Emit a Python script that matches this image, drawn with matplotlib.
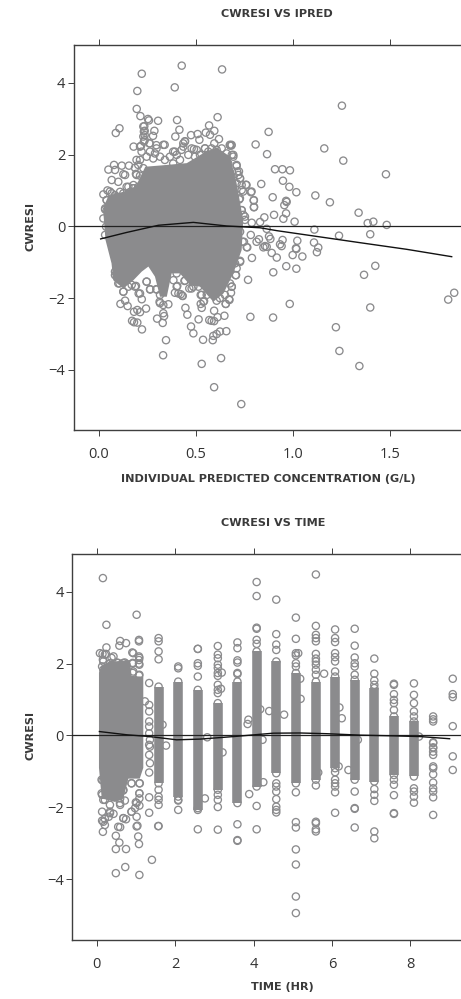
import matplotlib
matplotlib.use("Agg")
import matplotlib.pyplot as plt

plt.rcParams['font.family'] = ['Open Sans', 'DejaVu Sans']

W, H = 461, 999
GREY = '#8b8b8d'
DARK = '#3f3f3f'

# ---------- top panel: CWRESI vs IPRED ----------
ipred_x = [.428,.222,.636,.199,.392,1.254,.196,.215,.254,.259,.306,.404,.613,.107,.088,.235,.237,.287,.416,.569,.596,.876,.395,.280,.237,.510,.476,.552,.574,.620,.519,.445,.237,.261,.340,.180,.218,.297,.393,.436,.491,.548,.596,.684,.677,.809,1.163,.868,1.261,1.481,.909,.947,.986,.838,.950,.983,1.019,.897,.785,.799,.801,1.117,1.192,.966,.969,.957,.966,.904,.854,.952,.832,1.010,.789,1.340,1.387,1.416,1.485,1.112,.866,1.239,1.400,.784,.826,.878,.885,.948,1.024,.935,.943,1.110,1.132,1.017,.857,.814,.749,.763,
 .024,.045,.067,.05,.079,.084,.119,.156,.187,.101,.127,.136,.192,.213,.153,.179,.058,.084,.033,.041,.127,.686,.711,.723,.72,.729,.711,.759,.737,.725,.737,.746,.754,.729,.668,.694,
 .849,.866,.766,.742,1.019,1.125,.892,.918,1.0,1.05,.79,.729,.967,1.019,.90,1.426,1.368,1.833,1.802,.77,.985,1.40,.782,.899,1.223,1.241,1.344,.631,.531,.595,.735,.332,.347,.538,.588,.488,.476,.515,.457,.447,.223,.199,.182,.172,.301,.33,.337,.333,.316,.359,.244,.199,.213,.182,.112,.136,.149,.222,.206,.265,.247,.192,.297,.405,.393,.423,.433,.467,.445,.526,.526,.531,.543,.595,.613,.648,.582,.57,.595,.655,.672,.686,.682,.608,.658,.625,.608,.591,.706,.711,.703,
 .093,.107,.127,.153,.17,.084,.677,.651,.625,.557,.488,.514,.385,.402,.316,.333,.314]
ipred_y = [4.475,4.25,4.37,3.77,3.87,3.36,3.27,3.07,2.99,2.95,2.94,2.96,3.04,2.73,2.60,2.79,2.66,2.66,2.69,2.81,2.66,2.63,2.50,2.52,2.54,2.57,2.54,2.61,2.55,2.43,2.41,2.37,2.40,2.31,2.27,2.22,2.24,2.26,2.08,2.22,2.15,2.17,2.31,2.25,2.25,2.28,2.17,2.01,1.83,1.45,1.59,1.59,1.56,1.18,1.27,1.10,.95,.81,.95,.72,.54,.86,.67,.71,.68,.59,.36,.32,.25,.21,.12,.13,.10,.38,.09,.13,.04,-.09,-.07,-.26,-.22,-.24,-.36,-.28,-.35,-.38,-.40,-.50,-.55,-.45,-.59,-.61,-.55,-.43,-.43,-.58,
 .89,1.00,1.29,1.58,1.71,1.57,1.69,1.69,1.63,1.24,1.45,1.43,1.46,1.41,1.10,1.06,.97,.87,.47,.73,.83,1.99,1.68,1.53,1.43,1.33,1.20,1.16,1.01,.75,.45,.32,.18,-.15,1.75,1.94,
 -.585,-.57,-.585,-.43,-.63,-.72,-.74,-.87,-.80,-.84,-.88,-.96,-1.11,-1.18,-1.28,-1.10,-1.35,-1.85,-2.04,-1.49,-2.16,-2.26,-2.52,-2.54,-2.81,-3.47,-3.89,-3.67,-3.83,-4.48,-4.95,-3.59,-3.17,-3.16,-3.17,-2.98,-2.79,-2.59,-2.46,-2.27,-2.87,-2.68,-2.67,-2.63,-2.57,-2.69,-2.5,-2.42,-2.14,-2.17,-2.29,-2.33,-2.39,-2.38,-2.16,-2.07,-2.22,-2.03,-1.87,-1.75,-1.54,-1.66,-1.75,-1.66,-1.85,-1.89,-1.94,-1.73,-1.51,-1.91,-2.16,-2.27,-2.08,-2.35,-2.53,-2.49,-2.63,-2.61,-2.64,-2.16,-2.03,-1.68,-1.85,-2.07,-2.92,-2.93,-3.0,-3.05,-1.36,-1.17,-1.03,
 -1.40,-1.59,-1.82,-1.68,-1.63,-1.26,-1.59,-1.91,-2.0,-1.91,-1.68,-1.68,-1.50,-1.31,-1.91,-2.19,-2.1]

# rings on the fringe of the dense region
ipred_fringe_x = [.23,.233,.23,.233,.213,.221,.264,.264,.298,.29,.333,.247,.281,.316,.195,.384,.367,.402,.341,.436,.444,.427,.479,.505,.462,.496,.522,.548,.565,.582,.608,.634,.659,.676,.685,.694,.711,.714,.728,.737,.762,.745,.788,.80,.80,.728,.737,.754,.548,.591,.625,.642,.419,.384,.213,.204,.195,.23,.178,.17,.204,
 .11,.144,.179,.041,.067,.093,.127,.162,.196,.033,.024,.038,.033,
 .084,.101,.127,.187,.213,.247,.265,.299,.402,.411,.431,.442,.479,.531,.54,.674,.655,.686,.708,.729]
ipred_fringe_y = [2.78,2.64,2.50,2.36,2.22,2.08,2.31,2.08,2.17,2.03,2.27,1.94,1.89,1.94,1.85,2.08,1.94,1.99,1.85,2.31,2.36,2.13,2.17,2.13,1.99,1.94,1.99,2.17,2.08,2.17,2.13,2.17,2.03,2.27,2.27,1.99,1.71,1.52,1.34,1.15,1.15,.97,.97,.73,.53,.78,.45,.27,1.85,1.94,1.94,1.85,1.85,1.75,1.85,1.71,1.43,1.62,1.06,.83,1.10,
 .96,1.10,1.15,.73,.92,.82,.92,.96,1.01,.50,.22,-.01,-.24,
 -1.36,-1.59,-1.82,-1.68,-1.87,-1.54,-1.76,-1.76,-1.68,-1.87,-1.93,-1.52,-1.73,-1.91,-2.1,-2.05,-2.16,-1.68,-1.36,-.99]

# outline of the region where the rings merge into solid grey
ipred_core_x = [.022,.05,.12,.19,.24,.33,.454,.54,.608,.677,.711,.745,.737,.694,.643,.591,.522,.471,.419,.376,.351,.316,.29,.256,.222,.179,.127,.075,.066,.035]
ipred_core_y = [.5,.85,.95,1.1,1.66,1.7,1.76,2.04,2.2,1.94,1.2,.17,-.66,-1.31,-1.87,-2.1,-1.68,-1.64,-1.31,-1.31,-1.96,-1.96,-1.40,-1.12,-1.26,-1.50,-1.73,-1.50,-1.03,-.38]

ipred_smooth_x = [.01,.144,.308,.488,.66,.832,.918,1.347,1.588,1.82]
ipred_smooth_y = [-.35,-.17,.03,.11,.01,-.04,-.12,-.455,-.64,-.845]

# ---------- bottom panel: CWRESI vs TIME ----------
col_times = [1.58,2.08,2.58,3.09,3.59,4.08,4.58,5.08,5.59,6.08,6.58,7.08,7.58,8.09,8.58,9.08]
col_rings = [
 [2.71,2.62,2.34,2.12,-1.51,-1.70,-1.79,-1.93,-2.52],
 [1.92,1.87,-1.81,-1.79,-2.07],
 [2.41,2.41,2.01,1.94,1.64,-2.02,-2.61],
 [2.49,2.25,2.15,1.97,1.88,1.74,1.66,1.41,1.27,1.18,-1.65,-1.79,-1.99,-2.62],
 [2.59,2.43,2.09,2.03,1.74,1.71,-2.47,-2.91,-2.93],
 [4.27,3.88,3.0,2.97,2.66,2.55,-1.96,-2.61],
 [3.78,2.82,2.53,2.38,-1.33,-1.42,-1.56,-1.77,-1.98,-2.07,-2.14],
 [3.28,2.69,2.29,2.23,2.01,1.92,-1.58,-2.41,-2.56,-3.17,-3.59,-4.48,-4.94],
 [4.48,3.05,2.80,2.71,2.62,2.27,2.14,2.06,1.97,1.83,1.69,-1.39,-2.4,-2.44,-2.61,-2.67],
 [2.95,2.71,2.60,2.29,2.18,2.06,1.78,-1.02,-1.23,-1.33,-1.42,-1.58,-2.15],
 [2.97,2.50,2.17,2.01,1.92,1.69,-1.56,-2.02,-2.04,-2.56],
 [2.14,1.72,1.53,1.41,-1.49,-1.65,-1.82,-2.67,-2.86],
 [1.44,1.41,1.15,.99,.90,.71,-1.23,-1.37,-1.66,-2.16,-2.18],
 [1.45,1.13,.90,.67,.53,-1.47,-1.56,-1.70,-1.87],
 [.53,.45,.39,-.19,-.33,-.21,-.35,-.45,-.54,-.86,-.91,-1.08,-1.31,-1.47,-1.56,-1.72,-2.21],
 [1.58,1.15,1.07,.26,-.58,-.96],
]
col_core_hi = [1.36,1.50,1.27,.90,1.5,2.34,2.06,1.74,1.5,1.64,1.55,1.32,.53,.39,-.5,-.5]
col_core_lo = [-1.33,-1.70,-2.07,-1.51,-1.88,-1.42,-1.05,-1.33,-1.23,-.91,-1.23,-1.28,-1.1,-1.14,-.5,-.5]

time_x = [1.34,1.23,1.34,1.34,1.34,1.34,1.34,1.36,1.36,1.77,1.68,2.82,3.19,3.17,3.87,3.85,4.17,4.23,4.40,4.78,5.8,5.19,5.2,6.19,6.25,5.14,8.22,6.66,3.21,4.25,3.89,2.76,6.42,6.17,5.65,
 .16,.25,1.02,.25,.60,.58,.75,1.08,1.08,.91,.15,.24,.16,.14,.43,.34,.51,1.08,1.08,1.08,.92,.92,1.08,.72,
 .15,.14,.17,.14,.14,.21,.21,.31,.34,.43,.16,.49,.6,.58,.49,.75,.49,.73,1.09,1.41,1.08,1.06,1.04,1.02,.68,.75,.89,.98,1.09,1.0,.72,.6,.6,.68,1.09,1.09,1.1,.89,1.34,1.34,1.34,1.36,1.34,1.34,1.57,
 .084,.21,.17,.38,.38,.55,.68,.76,.92,.935,1.09,1.09,1.09,.935,.17,
 .127,.127,.21,.34,.425,.34,.595,.68,.89,1.09,1.09,1.02,.89,.68,.55,.34,.17,1.02]
time_y = [1.46,.95,.85,.67,.39,.25,.06,-.12,-.31,-.28,.30,-.05,1.75,1.30,.44,.32,.73,-.12,.68,.58,1.72,1.58,1.02,.78,.48,2.29,-.03,-.12,-.47,-1.30,-1.63,-1.75,-.96,-.86,-1.03,
 4.38,3.08,3.36,2.45,2.63,2.50,2.57,2.66,2.62,2.31,2.27,2.27,2.11,1.92,2.2,2.01,2.03,2.2,2.1,2.0,2.0,1.74,1.67,2.03,
 -1.25,-1.65,-1.79,-2.12,-2.37,-2.32,-2.49,-2.26,-2.12,-2.18,-2.68,-2.79,-2.55,-2.98,-3.16,-3.16,-3.83,-3.66,-3.88,-3.46,-3.02,-2.81,-2.51,-2.26,-2.3,-2.33,-2.12,-2.02,-1.95,-1.86,-1.81,-1.93,-1.75,-1.53,-1.61,-1.75,-1.33,-1.33,-1.03,-1.72,-2.15,-.77,-.54,-.26,-2.52,
 2.29,2.25,2.06,2.16,1.97,2.02,2.02,1.97,2.02,2.29,2.16,1.97,1.69,1.78,1.83,
 -1.23,-1.61,-1.79,-1.42,-1.70,-1.93,-1.88,-1.51,-1.33,-1.33,-1.61,-1.88,-2.12,-2.30,-2.54,-2.16,-2.40,-2.53]

time_core_x = [.06,.13,.34,.85,.89,1.19,1.19,1.1,.81,.68,.47,.13,.06]
time_core_y = [1.75,1.95,2.05,2.1,1.65,1.64,-.9,-1.2,-1.2,-1.75,-1.85,-1.75,-.9]

time_smooth_x = [.07,.77,1.36,2.04,2.64,3.49,4.51,5.19,5.87,6.72,7.57,8.25,9.0]
time_smooth_y = [.11,.02,-.03,-.12,-.10,-.03,.065,.07,.05,.01,-.01,-.03,-.09]

yticks = [-4, -2, 0, 2, 4]
ipred_ticks = [0.0, 0.5, 1.0, 1.5]
ipred_ticklabels = ['0.0', '0.5', '1.0', '1.5']
time_ticks = [0, 2, 4, 6, 8]
ytick_labels = ['\u22124', '\u22122', '0', '2', '4']

fig = plt.figure(figsize=(W / 100, H / 100), dpi=100, facecolor='white')


def make_axes(left, top, bottom, xlim, ylim, xticks, xlabels):
    ax = fig.add_axes([left / W, 1 - bottom / H, (W - left) / W, (bottom - top) / H])
    ax.set_xlim(*xlim)
    ax.set_ylim(*ylim)
    ax.spines['right'].set_visible(False)
    for s in ['left', 'top', 'bottom']:
        ax.spines[s].set_linewidth(1.0)
        ax.spines[s].set_color(DARK)
    ax.set_xticks(xticks)
    ax.set_xticklabels(xlabels, fontsize=10.5, color='#333333')
    ax.set_yticks(yticks)
    ax.set_yticklabels(ytick_labels, fontsize=10.5, color='#333333')
    ax.tick_params(axis='both', length=4, width=0.7, color=DARK, top=True)
    ax.tick_params(axis='y', pad=2)
    ax.tick_params(axis='x', pad=8)
    return ax


def rings(ax, x, y):
    ax.scatter(x, y, s=27, facecolors='none', edgecolors=GREY, linewidths=0.95, zorder=2)


def label(x, y, s, rotation=0, size=8.1):
    fig.text(x / W, 1 - y / H, s, ha='center', va='center', rotation=rotation,
             fontsize=size, fontweight='bold', family='DejaVu Sans', color='#3a3a3a')


ax1 = make_axes(73.7, 45, 430.3, (-0.129, 1.868), (-5.68, 5.05), ipred_ticks, ipred_ticklabels)
ax1.fill(ipred_core_x, ipred_core_y, color=GREY, lw=0, zorder=1)
rings(ax1, ipred_x, ipred_y)
rings(ax1, ipred_fringe_x, ipred_fringe_y)
ax1.axhline(0, color='#222222', lw=0.9, zorder=3)
ax1.plot(ipred_smooth_x, ipred_smooth_y, color='#111111', lw=1.0, zorder=4)

ax2 = make_axes(72.3, 554, 940, (-0.62, 9.29), (-5.69, 5.05), time_ticks, [str(t) for t in time_ticks])
ax2.fill(time_core_x, time_core_y, color=GREY, lw=0, zorder=1)
for t, lo, hi, ys in zip(col_times, col_core_lo, col_core_hi, col_rings):
    if hi > lo:
        ax2.vlines(t, lo, hi, color=GREY, lw=6.9, zorder=1)
        rings(ax2, [t, t], [lo, hi])
    rings(ax2, [t] * len(ys), ys)
rings(ax2, time_x, time_y)
ax2.axhline(0, color='#222222', lw=0.9, zorder=3)
ax2.plot(time_smooth_x, time_smooth_y, color='#111111', lw=1.0, zorder=4)

label(277, 14, 'CWRESI VS IPRED')
label(268, 479, 'INDIVIDUAL PREDICTED CONCENTRATION (G/L)')
label(30, 226, 'CWRESI', rotation=90)
label(273, 523, 'CWRESI VS TIME')
label(282, 987, 'TIME (HR)')
label(30, 735, 'CWRESI', rotation=90)

fig.savefig('out.png', dpi=100)
